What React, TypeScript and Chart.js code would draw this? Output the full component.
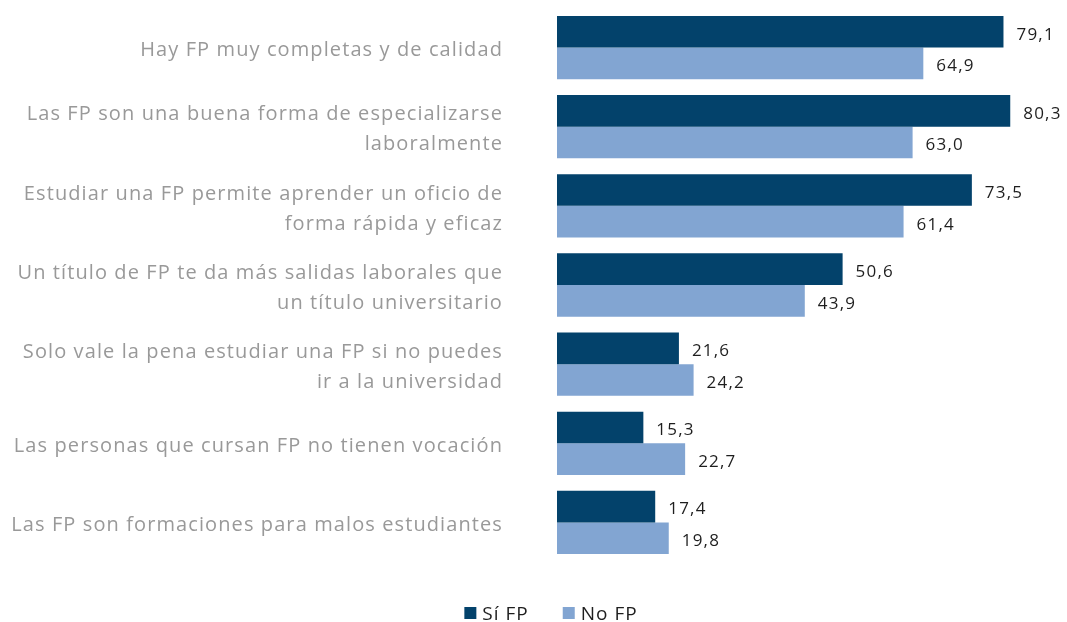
import React, { useEffect, useRef } from "react";
import { Chart, registerables } from "chart.js";

Chart.register(...registerables);

const categories: string[][] = [
  ["Hay FP muy completas y de calidad"],
  ["Las FP son una buena forma de especializarse", "laboralmente"],
  ["Estudiar una FP permite aprender un oficio de", "forma rápida y eficaz"],
  ["Un título de FP te da más salidas laborales que", "un título universitario"],
  ["Solo vale la pena estudiar una FP si no puedes", "ir a la universidad"],
  ["Las personas que cursan FP no tienen vocación"],
  ["Las FP son formaciones para malos estudiantes"],
];
const siFP: number[] = [79.1, 80.3, 73.5, 50.6, 21.6, 15.3, 17.4];
const noFP: number[] = [64.9, 63.0, 61.4, 43.9, 24.2, 22.7, 19.8];
const seriesNames: string[] = ["Sí FP", "No FP"];
const seriesColors: string[] = ["#03426B", "#82A5D2"];

const FONT = "'Open Sans', sans-serif";

const spacing = {
  id: "spacing",
  beforeDraw(chart: any) {
    (chart.ctx as any).letterSpacing = "1.1px";
  },
};

const valueLabels = {
  id: "valueLabels",
  afterDatasetsDraw(chart: any) {
    const ctx = chart.ctx;
    ctx.save();
    (ctx as any).letterSpacing = "1.2px";
    ctx.font = `17px ${FONT}`;
    ctx.fillStyle = "#1e1e1e";
    ctx.textAlign = "left";
    ctx.textBaseline = "middle";
    chart.data.datasets.forEach((ds: any, di: number) => {
      const meta = chart.getDatasetMeta(di);
      meta.data.forEach((bar: any, i: number) => {
        const v = ds.data[i] as number;
        ctx.fillText(v.toFixed(1).replace(".", ","), bar.x + 13, bar.y + 3);
      });
    });
    ctx.restore();
  },
};

const customLegend = {
  id: "customLegend",
  afterDraw(chart: any) {
    const ctx = chart.ctx;
    ctx.save();
    (ctx as any).letterSpacing = "1px";
    ctx.font = `19px ${FONT}`;
    ctx.textBaseline = "middle";
    ctx.textAlign = "left";
    const box = 12;
    const gapText = 6;
    const gapItems = 34;
    const items = chart.data.datasets.map((d: any) => ({
      label: d.label,
      color: d.backgroundColor,
      w: box + gapText + ctx.measureText(d.label).width,
    }));
    const total = items.reduce((s: number, it: any) => s + it.w, 0) + gapItems * (items.length - 1);
    let x = 551 - total / 2;
    const y = chart.chartArea.bottom + 52;
    items.forEach((it: any) => {
      ctx.fillStyle = it.color;
      ctx.fillRect(x, y - 7, box, box);
      ctx.fillStyle = "#1e1e1e";
      ctx.fillText(it.label, x + box + gapText, y + 1);
      x += it.w + gapItems;
    });
    ctx.restore();
  },
};

export default function App() {
  const ref = useRef<HTMLCanvasElement | null>(null);
  useEffect(() => {
    if (!ref.current) return;
    const chart = new Chart(ref.current, {
      type: "bar",
      data: {
        labels: categories,
        datasets: [
          { label: seriesNames[0], data: siFP, backgroundColor: seriesColors[0], categoryPercentage: 0.8, barPercentage: 1.0 },
          { label: seriesNames[1], data: noFP, backgroundColor: seriesColors[1], categoryPercentage: 0.8, barPercentage: 1.0 },
        ],
      },
      options: {
        indexAxis: "y",
        responsive: false,
        maintainAspectRatio: false,
        animation: false,
        layout: { padding: { top: 8, bottom: 60, left: 0, right: 2 } },
        plugins: { legend: { display: false }, tooltip: { enabled: false } },
        scales: {
          x: { display: false, min: 0, max: 90 },
          y: {
            grid: { display: false, drawTicks: false },
            border: { display: false },
            ticks: {
              color: "#999999",
              padding: 54,
              labelOffset: 3,
              font: { family: FONT, size: 20, lineHeight: "30px" },
            },
            afterFit(scale: any) {
              scale.width = 557;
              scale.paddingTop = 0;
              scale.paddingBottom = 0;
            },
          },
        },
      },
      plugins: [spacing, valueLabels, customLegend],
    });
    return () => chart.destroy();
  }, []);
  return (
    <div style={{ position: "fixed", left: 0, top: 0, width: 1067, height: 622, overflow: "hidden", background: "#fff" }}>
      <canvas ref={ref} width={1067} height={622} style={{ display: "block" }} />
    </div>
  );
}
